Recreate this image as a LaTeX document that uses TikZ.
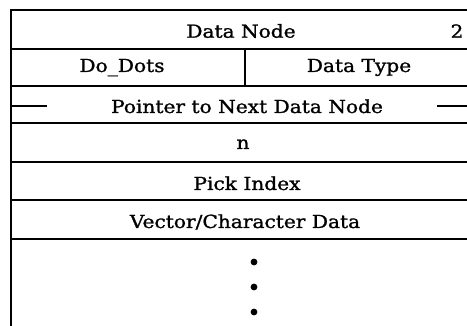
\documentclass[tikz,border=0pt]{standalone}
\usepackage{fontspec}
\setmainfont{DejaVu Serif}[FakeStretch=1.12,FakeBold=1.2]
\begin{document}
\begin{tikzpicture}[x=1pt,y=-1pt,
  rule/.style={line width=2pt,line cap=rect},
  lbl/.style={anchor=base,inner sep=0pt,font=\fontsize{18pt}{21pt}\selectfont},
  dotm/.style={fill=black}]
\useasboundingbox (0,0) rectangle (467,326);
% frame
\draw[rule] (11,326) -- (11,10) -- (467,10);
\foreach \yy in {49,86,123,162,200,239} \draw[rule] (11,\yy) -- (467,\yy);
\draw[rule] (245,49) -- (245,86);
% pointer dashes
\draw[rule] (11,106) -- (46,106);
\draw[rule] (438,106) -- (467,106);
% texts
\node[lbl] (dn) at (241,37.7) {Data Node};
\node[lbl] (two) at (457,37.7) {2};
\node[lbl] (dd) at (122,72) {Do\_Dots};
\node[lbl] (dt) at (359,72) {Data Type};
\node[lbl] (ptr) at (247,113) {Pointer to Next Data Node};
\node[lbl] (n) at (243,149) {n};
\node[lbl] (pi) at (247,190) {Pick Index};
\node[lbl] (vc) at (245,228) {Vector/Character Data};
% dots
\fill[dotm] (254,262) circle (3.4);
\fill[dotm] (254,287) circle (3.4);
\fill[dotm] (254,312) circle (3.4);
\end{tikzpicture}
\end{document}
